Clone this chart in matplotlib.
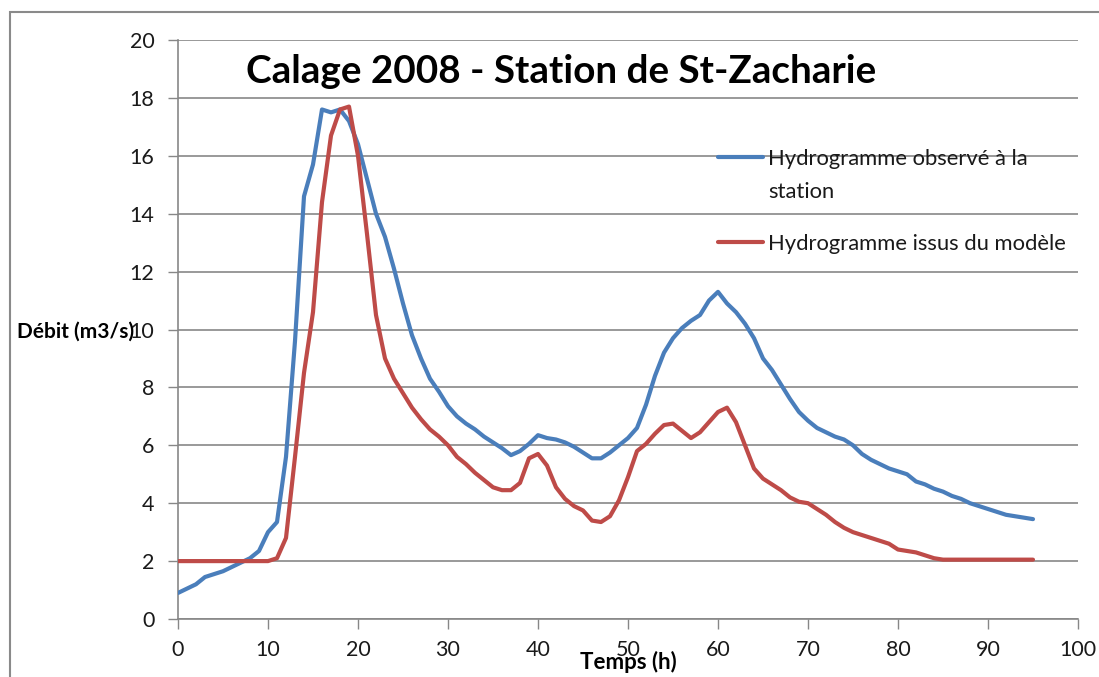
import matplotlib
matplotlib.use("Agg")
import matplotlib.pyplot as plt
from matplotlib.patches import Rectangle

hours = list(range(0, 96))

observe = [0.9, 1.05, 1.2, 1.45, 1.55, 1.65, 1.8, 1.95, 2.1, 2.35, 3.0, 3.35, 5.6, 9.6, 14.6, 15.7,
           17.6, 17.5, 17.6, 17.2, 16.4, 15.2, 14.0, 13.2, 12.1, 10.9, 9.8, 9.0, 8.3, 7.85,
           7.35, 7.0, 6.75, 6.55, 6.3, 6.1, 5.9, 5.66, 5.8, 6.05, 6.35, 6.25, 6.2, 6.1, 5.95,
           5.75, 5.55, 5.55, 5.75, 6.0, 6.25, 6.6, 7.4, 8.4, 9.2, 9.7, 10.05, 10.3, 10.5, 11.0,
           11.3, 10.9, 10.6, 10.2, 9.7, 9.0, 8.6, 8.1, 7.6, 7.15, 6.85, 6.6, 6.45, 6.3, 6.2,
           6.0, 5.7, 5.5, 5.35, 5.2, 5.1, 5.0, 4.75, 4.65, 4.5, 4.4, 4.25, 4.15, 4.0, 3.9,
           3.8, 3.7, 3.6, 3.55, 3.5, 3.45]

modele = [2.0, 2.0, 2.0, 2.0, 2.0, 2.0, 2.0, 2.0, 2.0, 2.0, 2.0, 2.1, 2.8, 5.6, 8.5, 10.6,
          14.4, 16.7, 17.6, 17.7, 16.0, 13.3, 10.5, 9.0, 8.3, 7.8, 7.3, 6.9, 6.55, 6.3,
          6.0, 5.6, 5.35, 5.05, 4.8, 4.55, 4.45, 4.45, 4.7, 5.55, 5.7, 5.3, 4.55, 4.15, 3.9,
          3.75, 3.4, 3.35, 3.55, 4.1, 4.9, 5.8, 6.05, 6.4, 6.7, 6.75, 6.5, 6.25, 6.45, 6.8,
          7.15, 7.3, 6.8, 6.0, 5.2, 4.85, 4.65, 4.45, 4.2, 4.05, 4.0, 3.8, 3.6, 3.35, 3.15,
          3.0, 2.9, 2.8, 2.7, 2.6, 2.4, 2.35, 2.3, 2.2, 2.1, 2.05, 2.05, 2.05, 2.05, 2.05,
          2.05, 2.05, 2.05, 2.05, 2.05, 2.05]

x_ticks = [0, 10, 20, 30, 40, 50, 60, 70, 80, 90, 100]
y_ticks = [0, 2, 4, 6, 8, 10, 12, 14, 16, 18, 20]

title = "Calage 2008 - Station de St-Zacharie"
label_obs = "Hydrogramme observé à la\nstation"
label_mod = "Hydrogramme issus du modèle"

plt.rcParams['font.family'] = ['Lato', 'DejaVu Sans']

W, H = 1099, 677
fig = plt.figure(figsize=(W / 100, H / 100), dpi=100)
ax = fig.add_axes([178 / W, 1 - 619 / H, 900 / W, 579 / H])

blue = '#4A7EBB'
red = '#BE4B48'
grid_c = '#878787'
txt_c = '#1a1a1a'

ax.plot(hours, observe, color=blue, lw=3.0, solid_capstyle='round',
        solid_joinstyle='round', zorder=3)
ax.plot(hours, modele, color=red, lw=3.0, solid_capstyle='round',
        solid_joinstyle='round', zorder=3)

ax.set_xlim(0, 100)
ax.set_ylim(0, 20)
ax.set_xticks(x_ticks)
ax.set_yticks(y_ticks)
ax.tick_params(axis='both', labelsize=15.5, color=grid_c, length=7, width=1, direction='out',
               labelcolor=txt_c)
ax.tick_params(axis='x', pad=8)
ax.tick_params(axis='y', pad=10)
ax.yaxis.grid(True, color=grid_c, lw=1.2)
ax.set_axisbelow(True)
for s in ['top', 'right']:
    ax.spines[s].set_visible(False)
for s in ['left', 'bottom']:
    ax.spines[s].set_color(grid_c)
    ax.spines[s].set_linewidth(1.2)

ax.text(0.426, 0.945, title, transform=ax.transAxes, ha='center', va='center',
        fontsize=27.8, fontweight='bold', color='black')

# legend (manual, first line aligned with handle)
ax.plot([0.600, 0.650], [0.798, 0.798], transform=ax.transAxes, color=blue, lw=3.0,
        solid_capstyle='round', clip_on=False)
ax.text(0.6556, 0.795, label_obs.split('\n')[0], transform=ax.transAxes, ha='left',
        va='center', fontsize=15.8, color=txt_c)
ax.text(0.6556, 0.737, label_obs.split('\n')[1], transform=ax.transAxes, ha='left',
        va='center', fontsize=15.8, color=txt_c)
ax.plot([0.600, 0.650], [0.651, 0.651], transform=ax.transAxes, color=red, lw=3.0,
        solid_capstyle='round', clip_on=False)
ax.text(0.6556, 0.648, label_mod, transform=ax.transAxes, ha='left', va='center',
        fontsize=15.8, color=txt_c)

fig.text(17 / W, 1 - 332 / H, "Débit (m3/s)", ha='left', va='center', fontsize=15,
         fontweight='bold', color='black')
fig.text(628 / W, 1 - 662 / H, "Temps (h)", ha='center', va='center', fontsize=16,
         fontweight='bold', color='black')

fig.patches.append(Rectangle((10 / W, -0.05), 1.2, 1 - 12 / H + 0.05, transform=fig.transFigure,
                             fill=False, edgecolor='#8a8a8a', lw=1.5))

fig.savefig('out.png', dpi=100)
